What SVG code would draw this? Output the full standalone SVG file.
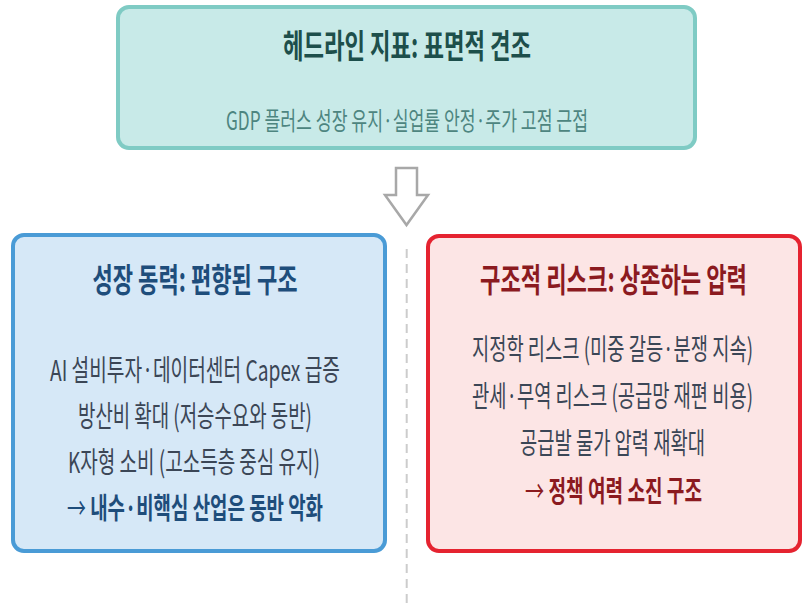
<svg xmlns="http://www.w3.org/2000/svg" width="803" height="615" viewBox="0 0 803 615">
<style>
  text { font-family: "Noto Sans CJK KR", "Noto Sans", sans-serif; text-anchor: middle; }
  .box { stroke-width: 4; }
  .t-title { font-weight: 700; font-size: 33px; }
  .t-body { font-weight: 400; font-size: 29px; fill: #3b4656; }
  .t-strong { font-weight: 700; font-size: 29px; }
  .arr { font-weight: 400; }
</style>
<rect width="803" height="615" fill="#ffffff"/>
<g id="connectors">
  <polygon points="396,168 417,168 417,195 428,195 406.5,225 385,195 396,195" fill="#ffffff" stroke="#a8a8a8" stroke-width="2.5" stroke-linejoin="miter"/>
  <line x1="406.7" y1="249" x2="406.7" y2="604" stroke="#cccccc" stroke-width="2" stroke-dasharray="9 6"/>
</g>
<g id="headline">
  <rect class="box" x="118" y="7" width="577" height="141" rx="11" fill="#c8eae8" stroke="#7fcbc4"/>
  <text class="t-title" transform="translate(407,58) scale(0.68,1)" fill="#1d4f4b" textLength="364.7" lengthAdjust="spacingAndGlyphs">헤드라인 지표: 표면적 견조</text>
  <text transform="translate(407,130) scale(0.66,1)" font-size="25" fill="#4d8580" textLength="548.5" lengthAdjust="spacingAndGlyphs">GDP 플러스 성장 유지·실업률 안정·주가 고점 근접</text>
</g>
<g id="growth">
  <rect class="box" x="13" y="235" width="372" height="316" rx="11" fill="#d6e8f7" stroke="#4a9bd6"/>
  <text class="t-title" transform="translate(195,292) scale(0.68,1)" fill="#1e4d7b" textLength="301.5" lengthAdjust="spacingAndGlyphs">성장 동력: 편향된 구조</text>
  <text class="t-body" transform="translate(195,381) scale(0.63,1)" textLength="460.3" lengthAdjust="spacingAndGlyphs">AI 설비투자·데이터센터 Capex 급증</text>
  <text class="t-body" transform="translate(195,427) scale(0.63,1)" textLength="371.4" lengthAdjust="spacingAndGlyphs">방산비 확대 (저승수요와 동반)</text>
  <text class="t-body" transform="translate(194,473) scale(0.63,1)" textLength="400" lengthAdjust="spacingAndGlyphs">K자형 소비 (고소득층 중심 유지)</text>
  <text class="t-strong" transform="translate(195,519) scale(0.63,1)" fill="#1e4d7b" textLength="406.3" lengthAdjust="spacingAndGlyphs"><tspan class="arr">→</tspan> 내수·비핵심 산업은 동반 악화</text>
</g>
<g id="risk">
  <rect class="box" x="428" y="236" width="372" height="315" rx="11" fill="#fce5e5" stroke="#e52330"/>
  <text class="t-title" transform="translate(613.5,292) scale(0.68,1)" fill="#8b1a1f" textLength="392.6" lengthAdjust="spacingAndGlyphs">구조적 리스크: 상존하는 압력</text>
  <text class="t-body" transform="translate(612.5,360) scale(0.63,1)" textLength="446" lengthAdjust="spacingAndGlyphs">지정학 리스크 (미중 갈등·분쟁 지속)</text>
  <text class="t-body" transform="translate(612.5,407) scale(0.63,1)" textLength="446" lengthAdjust="spacingAndGlyphs">관세·무역 리스크 (공급망 재편 비용)</text>
  <text class="t-body" transform="translate(612.5,454) scale(0.63,1)" textLength="293.7" lengthAdjust="spacingAndGlyphs">공급발 물가 압력 재확대</text>
  <text class="t-strong" transform="translate(613.5,502) scale(0.63,1)" fill="#8b1a1f" textLength="281" lengthAdjust="spacingAndGlyphs"><tspan class="arr">→</tspan> 정책 여력 소진 구조</text>
</g>
</svg>
